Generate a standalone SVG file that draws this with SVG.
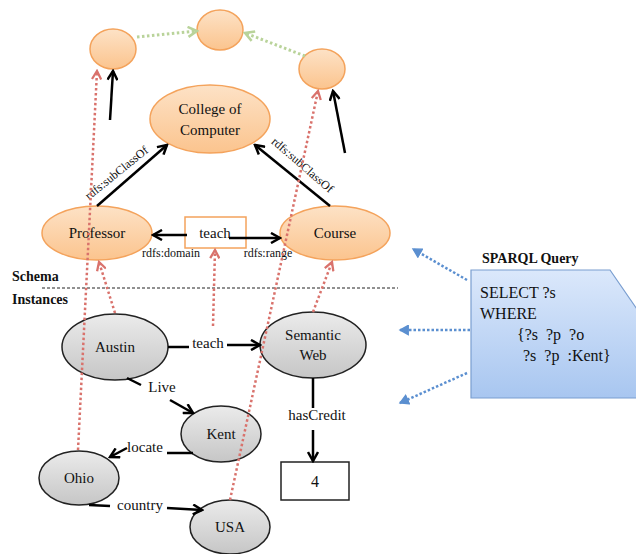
<svg xmlns="http://www.w3.org/2000/svg" width="636" height="554" viewBox="0 0 636 554">
<defs>
<linearGradient id="og" x1="0" y1="0" x2="0" y2="1"><stop offset="0" stop-color="#fde2c6"/><stop offset="1" stop-color="#fbc48e"/></linearGradient>
<linearGradient id="gg" x1="0" y1="0" x2="0" y2="1"><stop offset="0" stop-color="#ebebeb"/><stop offset="1" stop-color="#c6c6c6"/></linearGradient>
<linearGradient id="bg" x1="0" y1="0" x2="0" y2="1"><stop offset="0" stop-color="#dbe8fb"/><stop offset="1" stop-color="#a8c6f0"/></linearGradient>
<marker id="ab" markerUnits="userSpaceOnUse" viewBox="0 0 12 12" refX="10" refY="6" markerWidth="12" markerHeight="12" orient="auto"><path d="M1,1 L10,6 L1,11" fill="none" stroke="#000" stroke-width="2.5"/></marker>
<marker id="ar" markerUnits="userSpaceOnUse" viewBox="0 0 12 12" refX="10" refY="6" markerWidth="11" markerHeight="11" orient="auto"><path d="M1,1 L10,6 L1,11" fill="none" stroke="#d9726c" stroke-width="2.5"/></marker>
<marker id="agr" markerUnits="userSpaceOnUse" viewBox="0 0 12 12" refX="10" refY="6" markerWidth="12" markerHeight="12" orient="auto"><path d="M1,1 L10,6 L1,11" fill="none" stroke="#b9d39a" stroke-width="2.5"/></marker>
<marker id="abl" markerUnits="userSpaceOnUse" viewBox="0 0 12 12" refX="10" refY="6" markerWidth="11" markerHeight="11" orient="auto"><path d="M1,1 L10,6 L1,11 Z" fill="#5b8fd0" stroke="#5b8fd0" stroke-width="1.5"/></marker>
</defs>
<style>
.o{fill:url(#og);stroke:#f4a35c;stroke-width:1.5}
.g{fill:url(#gg);stroke:#222;stroke-width:1.5}
text{font-family:"Liberation Serif","Times New Roman",serif;fill:#111}
.n{font-size:15px;text-anchor:middle}
.l{font-size:15px;text-anchor:middle}
.s{font-size:12px;text-anchor:middle}
.b{font-size:14px;font-weight:bold}
.q{font-size:16px}
.k{fill:none;stroke:#000;stroke-width:2.5}
.r{fill:none;stroke:#d9726c;stroke-width:2.5;stroke-dasharray:2.5 2.5}
.gr{fill:none;stroke:#b9d39a;stroke-width:3;stroke-dasharray:2.5 2.5}
.bl{fill:none;stroke:#5b8fd0;stroke-width:2.5;stroke-dasharray:2.5 2}
</style>
<g id="top-left"><ellipse class="o" cx="113" cy="49" rx="23" ry="20"/></g>
<g id="top-mid"><ellipse class="o" cx="220" cy="30" rx="23" ry="20"/></g>
<g id="top-right"><ellipse class="o" cx="322" cy="69" rx="23" ry="20"/></g>
<g id="college"><ellipse class="o" cx="210" cy="119" rx="60" ry="34"/><text class="n" x="210" y="114">College of</text><text class="n" x="210" y="135">Computer</text></g>
<g id="professor"><ellipse class="o" cx="97" cy="233" rx="55" ry="27"/><text class="n" x="97" y="238">Professor</text></g>
<g id="course"><ellipse class="o" cx="335" cy="233" rx="55" ry="27"/><text class="n" x="335" y="238">Course</text></g>
<g id="teach-prop"><rect x="185" y="217" width="61" height="31" fill="#fff" stroke="#f4a35c" stroke-width="1.5"/><text class="n" x="215" y="238">teach</text></g>
<g id="austin"><ellipse class="g" cx="115" cy="347" rx="53" ry="33"/><text class="n" x="115" y="352">Austin</text></g>
<g id="semweb"><ellipse class="g" cx="313" cy="345" rx="53" ry="33"/><text class="n" x="313" y="340">Semantic</text><text class="n" x="313" y="360">Web</text></g>
<g id="kent"><ellipse class="g" cx="221" cy="434" rx="40" ry="28"/><text class="n" x="221" y="439">Kent</text></g>
<g id="ohio"><ellipse class="g" cx="79" cy="478" rx="40" ry="27"/><text class="n" x="79" y="483">Ohio</text></g>
<g id="usa"><ellipse class="g" cx="230" cy="527" rx="40" ry="27"/><text class="n" x="230" y="532">USA</text></g>
<g id="credit"><rect x="281" y="462" width="68" height="38" fill="#fff" stroke="#222" stroke-width="1.5"/><text class="n" x="315" y="487" style="font-size:16px">4</text></g>
<g id="sparql"><polygon points="471,270 610,270 650,328 650,398 471,398" fill="url(#bg)" stroke="#7a9ed0" stroke-width="1.2"/>
<text class="b" x="482" y="263">SPARQL Query</text>
<text class="q" x="480" y="298">SELECT ?s</text>
<text class="q" x="480" y="319">WHERE</text>
<text class="q" x="517" y="340" xml:space="preserve">{?s  ?p  ?o</text>
<text class="q" x="523" y="361" xml:space="preserve">?s  ?p  :Kent}</text></g>
<g id="divider"><text class="b" x="12" y="281">Schema</text><text class="b" x="12" y="304">Instances</text><line x1="42" y1="288" x2="398" y2="288" stroke="#222" stroke-width="1" stroke-dasharray="3 2"/></g>
<g id="connectors">
<line class="gr" x1="137" y1="37" x2="197" y2="31" marker-end="url(#agr)"/>
<line class="gr" x1="305" y1="56" x2="245" y2="33" marker-end="url(#agr)"/>
<line class="k" x1="110" y1="120" x2="113" y2="71" marker-end="url(#ab)"/>
<line class="k" x1="345" y1="153" x2="333" y2="91" marker-end="url(#ab)"/>
<line class="k" x1="97" y1="206" x2="167" y2="145" marker-end="url(#ab)"/>
<line class="k" x1="330" y1="206" x2="255" y2="145" marker-end="url(#ab)"/>
<text class="s" transform="translate(119,176) rotate(-39)">rdfs:subClassOf</text>
<text class="s" transform="translate(300,168) rotate(41)">rdfs:subClassOf</text>
<line class="k" x1="187" y1="235" x2="153" y2="235" marker-end="url(#ab)"/>
<line class="k" x1="229" y1="238" x2="280" y2="238" marker-end="url(#ab)"/>
<text class="s" x="171" y="257">rdfs:domain</text>
<text class="s" x="268" y="257">rdfs:range</text>
<line class="r" x1="78" y1="450" x2="97" y2="71" marker-end="url(#ar)"/>
<line class="r" x1="230" y1="500" x2="318" y2="91" marker-end="url(#ar)"/>
<line class="r" x1="115" y1="313" x2="99" y2="262" marker-end="url(#ar)"/>
<line class="r" x1="213" y1="326" x2="215" y2="250" marker-end="url(#ar)"/>
<line class="r" x1="313" y1="312" x2="332" y2="262" marker-end="url(#ar)"/>
<line class="bl" x1="467" y1="280" x2="413" y2="249" marker-end="url(#abl)"/>
<line class="bl" x1="470" y1="330" x2="400" y2="330" marker-end="url(#abl)"/>
<line class="bl" x1="467" y1="373" x2="400" y2="403" marker-end="url(#abl)"/>
<line class="k" x1="168" y1="347" x2="189" y2="347"/>
<text class="l" x="208" y="348">teach</text>
<line class="k" x1="227" y1="345" x2="260" y2="345" marker-end="url(#ab)"/>
<line class="k" x1="127" y1="378" x2="141" y2="385"/>
<text class="l" x="162" y="392">Live</text>
<line class="k" x1="170" y1="400" x2="193" y2="413" marker-end="url(#ab)"/>
<line class="k" x1="313" y1="378" x2="313" y2="408"/>
<text class="l" x="317" y="420">hasCredit</text>
<line class="k" x1="313" y1="430" x2="313" y2="461" marker-end="url(#ab)"/>
<line class="k" x1="193" y1="453" x2="167" y2="453"/>
<text class="l" x="145" y="452">locate</text>
<line class="k" x1="127" y1="448" x2="110" y2="457" marker-end="url(#ab)"/>
<line class="k" x1="89" y1="505" x2="110" y2="506"/>
<text class="l" x="140" y="510">country</text>
<line class="k" x1="167" y1="508" x2="202" y2="510" marker-end="url(#ab)"/>
</g>
</svg>
